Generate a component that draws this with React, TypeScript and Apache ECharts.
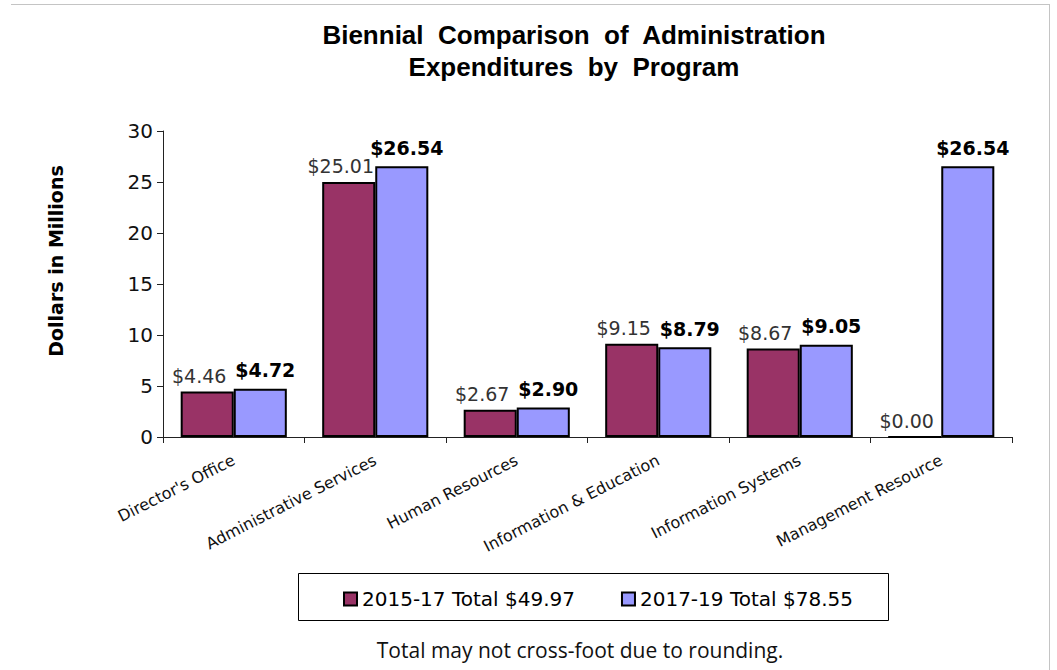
import React, { useEffect, useRef } from "react";
import * as echarts from "echarts";

const categories = [
  "Director's Office",
  "Administrative Services",
  "Human Resources",
  "Information & Education",
  "Information Systems",
  "Management Resource",
];
const values2015 = [4.46, 25.01, 2.67, 9.15, 8.67, 0.0];
const values2017 = [4.72, 26.54, 2.9, 8.79, 9.05, 26.54];
const seriesNames = ["2015-17 Total $49.97", "2017-19 Total $78.55"];
const yTicks = { min: 0, max: 30, interval: 5 };
const titleText = "Biennial  Comparison  of  Administration\nExpenditures  by  Program";
const yAxisTitle = "Dollars in Millions";
const footnote = "Total may not cross-foot due to rounding.";

const FONT = "DejaVu Sans, Verdana, sans-serif";

export default function App() {
  const ref = useRef<HTMLDivElement>(null);
  useEffect(() => {
    if (!ref.current) return;
    const chart = echarts.init(ref.current, null, { renderer: "svg" });
    chart.setOption({
      animation: false,
      backgroundColor: "#ffffff",
      textStyle: { fontFamily: FONT },
      grid: { left: 163, right: 45, top: 131, bottom: 233, containLabel: false },
      graphic: [
        { type: "line", shape: { x1: 11, y1: 4.5, x2: 1049.5, y2: 4.5 }, style: { stroke: "#c4c4c4", lineWidth: 1 } },
        { type: "line", shape: { x1: 1049.5, y1: 4, x2: 1049.5, y2: 670 }, style: { stroke: "#c4c4c4", lineWidth: 1 } },
        {
          type: "text",
          x: 574,
          y: 19,
          style: {
            text: titleText,
            font: "bold 26px 'Liberation Sans', Arial, sans-serif",
            textAlign: "center",
            lineHeight: 32,
            fill: "#000",
          },
        },
        {
          type: "text",
          x: 56,
          y: 261,
          rotation: Math.PI / 2,
          style: {
            text: yAxisTitle,
            font: "bold 19px 'DejaVu Sans', Verdana, sans-serif",
            textAlign: "center",
            textVerticalAlign: "middle",
            fill: "#000",
          },
        },
        { type: "rect", shape: { x: 298.5, y: 573.5, width: 590, height: 47 }, style: { fill: "none", stroke: "#000", lineWidth: 1 } },
        {
          type: "text",
          x: 580,
          y: 650,
          style: {
            text: footnote,
            font: "21px 'Open Sans', sans-serif",
            textAlign: "center",
            textVerticalAlign: "middle",
            fill: "#111",
          },
        },
      ],
      legend: {
        left: 338,
        top: 584,
        itemWidth: 13,
        itemHeight: 13,
        itemGap: 46,
        icon: "rect",
        textStyle: { fontSize: 20, color: "#000", fontFamily: FONT },
        data: seriesNames,
      },
      xAxis: {
        type: "category",
        data: categories,
        axisLine: { lineStyle: { color: "#222", width: 1 } },
        axisTick: { show: true, length: 6, lineStyle: { color: "#222" } },
        axisLabel: { rotate: 27, fontSize: 16, color: "#111", margin: 22, interval: 0, fontFamily: FONT },
      },
      yAxis: {
        type: "value",
        min: yTicks.min,
        max: yTicks.max,
        interval: yTicks.interval,
        axisLine: { show: true, lineStyle: { color: "#222", width: 1 } },
        axisTick: { show: true, length: 6, lineStyle: { color: "#222" } },
        axisLabel: { fontSize: 20, color: "#111", margin: 10, fontFamily: FONT },
        splitLine: { show: false },
      },
      series: [
        {
          name: seriesNames[0],
          type: "bar",
          data: values2015,
          barGap: "0%",
          barCategoryGap: "25%",
          itemStyle: { color: "#993366", borderColor: "#000", borderWidth: 2 },
          label: {
            show: true,
            position: "top",
            distance: 6,
            offset: [-8, 0],
            fontSize: 19,
            color: "#333",
            fontFamily: FONT,
            formatter: (p: any) => "$" + Number(p.value).toFixed(2),
          },
        },
        {
          name: seriesNames[1],
          type: "bar",
          data: values2017,
          barGap: "0%",
          barCategoryGap: "25%",
          itemStyle: { color: "#9999ff", borderColor: "#000", borderWidth: 2 },
          label: {
            show: true,
            position: "top",
            distance: 9,
            offset: [5, 0],
            fontSize: 19,
            fontWeight: "bold",
            color: "#000",
            fontFamily: FONT,
            formatter: (p: any) => "$" + Number(p.value).toFixed(2),
          },
        },
      ],
    });
    return () => chart.dispose();
  }, []);
  return (
    <div
      ref={ref}
      style={{ position: "fixed", left: 0, top: 0, width: 1057, height: 670, background: "#fff" }}
    />
  );
}
